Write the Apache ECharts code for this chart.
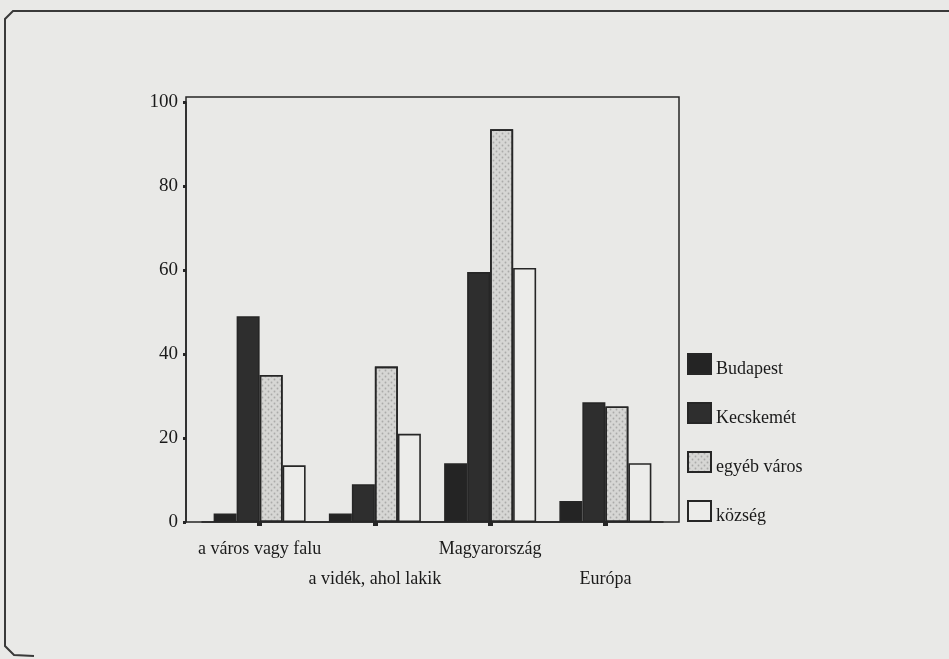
<!DOCTYPE html>
<html>
<head>
<meta charset="utf-8">
<script src="https://cdn.jsdelivr.net/npm/echarts@6/dist/echarts.min.js"></script>
<style>
  html, body { margin: 0; padding: 0; background: #e9e9e7; }
  #chart { width: 949px; height: 659px; }
</style>
</head>
<body>
<div id="chart"></div>
<script>
// Categories (x axis) and the four respondent groups, in percent
const categories = ['a város vagy falu', 'a vidék, ahol lakik', 'Magyarország', 'Európa'];
const seriesNames = ['Budapest', 'Kecskemét', 'egyéb város', 'község'];
const budapest  = [2, 2, 14, 5];
const kecskemet = [49, 9, 59.5, 28.5];
const egyebVaros = [35, 37, 93.5, 27.5];
const kozseg    = [13.5, 21, 60.5, 14];
const yTicks = [0, 20, 40, 60, 80, 100];

const serif = "'Liberation Serif', 'DejaVu Serif', serif";
const ink = '#262626';

const chart = echarts.init(document.getElementById('chart'), null, { renderer: 'canvas' });

function barSeries(name, data, fill, decal) {
  const s = {
    name: name,
    type: 'bar',
    xAxisIndex: 0,
    yAxisIndex: 0,
    data: data,
    barWidth: 23,
    barGap: '0%',
    itemStyle: { color: fill, borderColor: ink, borderWidth: 1.6 },
    emphasis: { disabled: true },
    z: 3
  };
  if (decal) s.itemStyle.decal = decal;
  return s;
}

const option = {
  backgroundColor: '#e9e9e7',
  animation: false,
  textStyle: { fontFamily: serif },
  grid: [
    { left: 202, width: 461, top: 102, bottom: 137, containLabel: false },
    // outer frame of the plot
    { left: 186, width: 493, top: 97, bottom: 137, show: true,
      borderColor: ink, borderWidth: 1.5, backgroundColor: 'transparent' }
  ],
  xAxis: [
    {
      type: 'category',
      gridIndex: 0,
      data: categories,
      boundaryGap: true,
      axisLine: { show: true, lineStyle: { color: ink, width: 1.5 } },
      axisTick: { show: true, alignWithLabel: true, length: 4, lineStyle: { color: ink, width: 5 } },
      axisLabel: {
        interval: 0,
        margin: 12,
        fontSize: 18,
        fontFamily: serif,
        color: '#1a1a1a',
        lineHeight: 30,
        verticalAlign: 'top',
        formatter: function (v, i) { return i % 2 === 1 ? '\n' + v : v; }
      },
      splitLine: { show: false }
    },
    { type: 'value', gridIndex: 1, show: false, min: 0, max: 1 }
  ],
  yAxis: [
    {
      type: 'value',
      gridIndex: 0,
      min: yTicks[0],
      max: yTicks[yTicks.length - 1],
      interval: yTicks[1] - yTicks[0],
      offset: 16,
      axisLine: { show: true, lineStyle: { color: ink, width: 1.5 } },
      axisTick: { show: true, length: 3, lineStyle: { color: ink, width: 3 } },
      axisLabel: { margin: 8, fontSize: 19, fontFamily: serif, color: '#1a1a1a' },
      splitLine: { show: false }
    },
    { type: 'value', gridIndex: 1, show: false, min: 0, max: 1 }
  ],
  legend: {
    orient: 'vertical',
    left: 687,
    top: 353,
    padding: 0,
    itemWidth: 23,
    itemHeight: 20,
    itemGap: 24,
    icon: 'rect',
    data: seriesNames,
    formatter: '{t|{name}}',
    textStyle: {
      fontSize: 18, fontFamily: serif, color: '#1a1a1a',
      rich: { t: { fontSize: 18, fontFamily: serif, color: '#1a1a1a', padding: [10, 0, 0, 0] } }
    }
  },
  graphic: [
    {
      type: 'polyline',
      silent: true,
      shape: { points: [[949, 11], [13, 11], [5, 19], [5, 646], [14, 655], [34, 656]] },
      style: { stroke: '#3a3a3a', lineWidth: 2, fill: null }
    }
  ],
  series: [
    barSeries(seriesNames[0], budapest, '#242424'),
    barSeries(seriesNames[1], kecskemet, '#2e2e2e'),
    barSeries(seriesNames[2], egyebVaros, '#d6d6d4', {
      symbol: 'circle', symbolSize: 0.6, color: 'rgba(90,90,90,0.35)',
      dashArrayX: [[3, 3], [0, 3, 3, 0]], dashArrayY: [3, 0], rotation: 0
    }),
    barSeries(seriesNames[3], kozseg, '#ececea')
  ]
};

chart.setOption(option);
</script>
</body>
</html>
